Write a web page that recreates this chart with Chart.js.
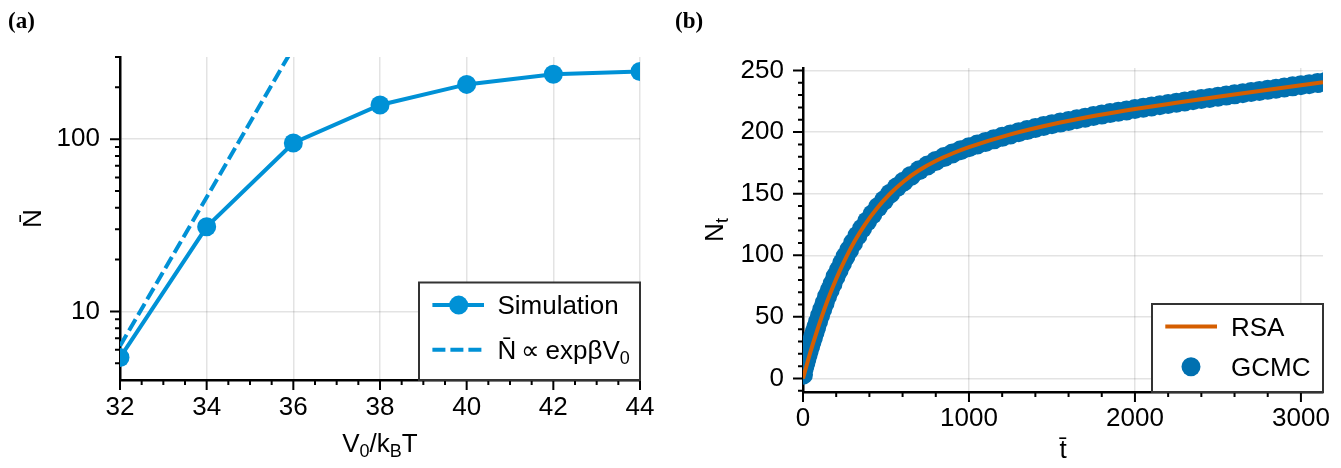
<!DOCTYPE html>
<html><head><meta charset="utf-8">
<script src="https://cdn.jsdelivr.net/npm/chart.js@4.4.1/dist/chart.umd.min.js"></script>
<style>
html,body{margin:0;padding:0;background:#fff;}
#wrap{position:relative;width:1341px;height:468px;overflow:hidden;background:#fff;}
canvas{position:absolute;top:0;}
</style></head><body>
<div id="wrap">
<canvas id="ca" width="660" height="468" style="left:0"></canvas>
<canvas id="cb" width="681" height="468" style="left:660px"></canvas>
</div>
<script>
// ---------- Panel (a) data ----------
const V0 = [32, 34, 36, 38, 40, 42, 44];
const N_sim = [5.4, 31, 95, 158, 208, 238, 247];
const V0_fit = [32, 34, 36];
const N_fit = [6.3, 46, 340];
const aXTicks = [32, 34, 36, 38, 40, 42, 44];
const aXMinor = [32.5, 33, 33.5, 34.5, 35, 35.5, 36.5, 37, 37.5, 38.5, 39, 39.5, 40.5, 41, 41.5, 42.5, 43, 43.5];
const aYTicks = [10, 100];
const aYMinor = [5, 6, 7, 8, 9, 20, 30, 40, 50, 60, 70, 80, 90, 200, 300];

// ---------- Panel (b) data ----------
const t_rsa = [0, 30, 60, 85, 111, 145, 181, 220, 262, 315, 372, 445, 523, 610, 700, 805, 900, 1000, 1250, 1550, 1775, 2000, 2250, 2500, 2750, 3000, 3133];
const N_rsa = [0, 14.6, 28.2, 38.9, 49.4, 62.2, 74.6, 86.9, 98.9, 112.3, 124.7, 138, 149.7, 160.3, 169, 176.9, 182.6, 187.7, 198.1, 207.7, 213.6, 218.7, 223.8, 228.7, 233.4, 238, 240.4];
const t_gcmc = [0, 5, 10, 16, 22, 29, 36, 44, 52, 61, 70, 80, 91, 103, 116, 130, 145, 161, 178, 196, 215, 235, 256, 278, 302, 328, 356, 386, 418, 452, 488, 525, 565, 605, 650, 700, 750, 800, 850, 900, 950, 1000, 1050, 1100, 1150, 1200, 1250, 1300, 1350, 1400, 1450, 1500, 1550, 1600, 1650, 1700, 1750, 1800, 1850, 1900, 1950, 2000, 2050, 2100, 2150, 2200, 2250, 2300, 2350, 2400, 2450, 2500, 2550, 2600, 2650, 2700, 2750, 2800, 2850, 2900, 2950, 3000, 3050, 3100, 3150];
const N_gcmc = [3, 8.3, 10.7, 13.6, 16.5, 19.8, 23, 26.5, 29.9, 33.8, 37.6, 41.8, 46.2, 51, 56, 61.1, 66.5, 71.6, 76.9, 82.6, 87.8, 93.4, 98.9, 104.3, 110.1, 115.9, 121.7, 127.5, 133.2, 139.1, 144.6, 150, 155.2, 159.7, 164.4, 169, 172.9, 176.6, 179.7, 182.6, 185.2, 187.7, 189.9, 192, 194.1, 196.1, 198.1, 199.9, 201.6, 203.3, 204.9, 206.4, 207.7, 209, 210.4, 211.7, 213, 214.2, 215.4, 216.5, 217.6, 218.7, 219.7, 220.8, 221.8, 222.8, 223.8, 224.8, 225.8, 226.8, 227.7, 228.7, 229.6, 230.6, 231.5, 232.5, 233.4, 234.3, 235.2, 236.2, 237.1, 238, 238.9, 239.8, 240.7];
const bXTicks = [0, 1000, 2000, 3000];
const bXMinor = [200, 400, 600, 800, 1200, 1400, 1600, 1800, 2200, 2400, 2600, 2800];
const bYTicks = [0, 50, 100, 150, 200, 250];
const bYMinor = [-10, 10, 20, 30, 40, 60, 70, 80, 90, 110, 120, 130, 140, 160, 170, 180, 190, 210, 220, 230, 240];

// ---------- styles ----------
const FONT = "'Liberation Sans', Arial, Helvetica, sans-serif";
const SERIF = "'Liberation Serif', 'Times New Roman', serif";
const FS = 26;
const BLUE_A = '#0091d6';
const BLUE_B = '#0070b0';
const ORANGE = '#d55e00';
const GRID = 'rgba(0,0,0,0.11)';

Chart.defaults.font.family = FONT;
Chart.defaults.font.size = FS;
Chart.defaults.color = '#000';

function partsWidth(ctx, parts, size) {
  let w = 0;
  parts.forEach(p => { ctx.font = (p.sub ? Math.round(size * 0.68) : size) + 'px ' + FONT; w += ctx.measureText(p.t).width; });
  return w;
}
function drawRich(ctx, parts, x, y, size, align) {
  ctx.textAlign = 'left';
  ctx.textBaseline = 'alphabetic';
  const w = partsWidth(ctx, parts, size);
  let cx = align === 'center' ? x - w / 2 : x;
  parts.forEach(p => {
    const s = p.sub ? Math.round(size * 0.68) : size;
    ctx.font = s + 'px ' + FONT;
    ctx.fillText(p.t, cx, y + (p.sub ? size * 0.2 : 0));
    cx += ctx.measureText(p.t).width;
  });
}
function drawTicks(chart, xMaj, xMin, yMaj, yMin) {
  const ctx = chart.ctx, ca = chart.chartArea, xs = chart.scales.x, ys = chart.scales.y;
  ctx.save();
  ctx.strokeStyle = '#000';
  ctx.lineWidth = 2;
  ctx.beginPath();
  xMaj.forEach(v => { const p = xs.getPixelForValue(v); ctx.moveTo(p, ca.bottom); ctx.lineTo(p, ca.bottom + 10); });
  xMin.forEach(v => { const p = xs.getPixelForValue(v); ctx.moveTo(p, ca.bottom); ctx.lineTo(p, ca.bottom + 5); });
  yMaj.forEach(v => { const p = ys.getPixelForValue(v); ctx.moveTo(ca.left, p); ctx.lineTo(ca.left - 10, p); });
  yMin.forEach(v => { const p = ys.getPixelForValue(v); ctx.moveTo(ca.left, p); ctx.lineTo(ca.left - 5, p); });
  ctx.stroke();
  ctx.restore();
}
function legendBox(ctx, x0, y0, w, h) {
  ctx.fillStyle = '#fff';
  ctx.fillRect(x0, y0, w, h);
  ctx.strokeStyle = '#333';
  ctx.lineWidth = 2;
  ctx.strokeRect(x0, y0, w, h);
}

const decorA = {
  id: 'decorA',
  afterDraw(chart) {
    const ctx = chart.ctx, ca = chart.chartArea;
    drawTicks(chart, aXTicks, aXMinor, aYTicks, aYMinor);
    ctx.save();
    ctx.fillStyle = '#000';
    drawRich(ctx, [{t: 'V'}, {t: '0', sub: true}, {t: '/k'}, {t: 'B', sub: true}, {t: 'T'}], (ca.left + ca.right) / 2, 452, FS, 'center');
    ctx.save();
    ctx.translate(41, (ca.top + ca.bottom) / 2);
    ctx.rotate(-Math.PI / 2);
    drawRich(ctx, [{t: 'N\u0304'}], 0, 0, FS, 'center');
    ctx.restore();
    ctx.font = 'bold 23px ' + SERIF;
    ctx.textAlign = 'left'; ctx.textBaseline = 'alphabetic';
    ctx.fillText('(a)', 8, 28);
    const w = 221, h = 97.5, x0 = ca.right - w, y0 = ca.bottom - h;
    legendBox(ctx, x0, y0, w, h);
    const r1 = y0 + 22.6, r2 = y0 + 67.3;
    ctx.strokeStyle = BLUE_A; ctx.lineWidth = 4;
    ctx.beginPath(); ctx.moveTo(x0 + 13.4, r1); ctx.lineTo(x0 + 65, r1); ctx.stroke();
    ctx.fillStyle = BLUE_A;
    ctx.beginPath(); ctx.arc(x0 + 39.7, r1, 9.5, 0, Math.PI * 2); ctx.fill();
    ctx.setLineDash([13, 5]);
    ctx.beginPath(); ctx.moveTo(x0 + 13.4, r2); ctx.lineTo(x0 + 65, r2); ctx.stroke();
    ctx.setLineDash([]);
    ctx.fillStyle = '#000';
    drawRich(ctx, [{t: chart.data.datasets[0].label}], x0 + 78.4, r1 + 9.3, FS, 'left');
    drawRich(ctx, [{t: 'N\u0304\u2009\u221D\u2009exp\u03B2V'}, {t: '0', sub: true}], x0 + 78.4, r2 + 9.3, FS, 'left');
    ctx.restore();
  }
};

const decorB = {
  id: 'decorB',
  afterDraw(chart) {
    const ctx = chart.ctx, ca = chart.chartArea;
    drawTicks(chart, bXTicks, bXMinor, bYTicks, bYMinor);
    ctx.save();
    ctx.fillStyle = '#000';
    drawRich(ctx, [{t: 't\u0304'}], (ca.left + ca.right) / 2, 458, FS, 'center');
    ctx.save();
    ctx.translate(63, (ca.top + ca.bottom) / 2);
    ctx.rotate(-Math.PI / 2);
    drawRich(ctx, [{t: 'N'}, {t: 't', sub: true}], 0, 0, FS, 'center');
    ctx.restore();
    ctx.font = 'bold 23px ' + SERIF;
    ctx.textAlign = 'left'; ctx.textBaseline = 'alphabetic';
    ctx.fillText('(b)', 15, 28);
    const w = 171, h = 88, x0 = ca.right - w, y0 = ca.bottom - h;
    legendBox(ctx, x0, y0, w, h);
    const r1 = y0 + 22.4, r2 = y0 + 62.7;
    ctx.strokeStyle = ORANGE; ctx.lineWidth = 4;
    ctx.beginPath(); ctx.moveTo(x0 + 13.3, r1); ctx.lineTo(x0 + 65, r1); ctx.stroke();
    ctx.fillStyle = BLUE_B;
    ctx.beginPath(); ctx.arc(x0 + 39, r2, 9.5, 0, Math.PI * 2); ctx.fill();
    ctx.fillStyle = '#000';
    drawRich(ctx, [{t: chart.data.datasets[0].label}], x0 + 79, r1 + 9.3, FS, 'left');
    drawRich(ctx, [{t: chart.data.datasets[1].label}], x0 + 79, r2 + 9.3, FS, 'left');
    ctx.restore();
  }
};

function axisBase(ticksArr, extra) {
  return Object.assign({
    type: 'linear',
    afterBuildTicks: s => { s.ticks = ticksArr.map(v => ({value: v})); },
    grid: {color: GRID, lineWidth: 1.5, drawTicks: false},
    border: {display: true, color: '#000', width: 2.5},
    ticks: {autoSkip: false, maxRotation: 0, minRotation: 0, color: '#000', font: {size: FS, family: FONT}, callback: v => String(v)}
  }, extra);
}
function fixX(h) { return s => { s.height = h; s.paddingLeft = 0; s.paddingRight = 0; }; }
function fixY(w) { return s => { s.width = w; s.paddingTop = 0; s.paddingBottom = 0; }; }

// ---------- Chart (a) ----------
const xa = axisBase(aXTicks, {min: 32, max: 44, afterFit: fixX(88)});
xa.ticks.padding = 12;
const ya = axisBase(aYTicks, {type: 'logarithmic', min: 4, max: 300, afterFit: fixY(120)});
ya.ticks.padding = 20;

new Chart(document.getElementById('ca'), {
  type: 'line',
  data: {
    datasets: [
      {label: 'Simulation', data: V0.map((v, i) => ({x: v, y: N_sim[i]})), borderColor: BLUE_A, backgroundColor: BLUE_A,
        borderWidth: 4, pointRadius: 9.5, pointHoverRadius: 9.5, pointBorderWidth: 0, pointBackgroundColor: BLUE_A, clip: 0, order: 0, tension: 0},
      {label: 'N\u0304 \u221D exp\u03B2V\u2080', data: V0_fit.map((v, i) => ({x: v, y: N_fit[i]})), borderColor: BLUE_A,
        borderWidth: 4, borderDash: [13, 5], pointRadius: 0, pointHoverRadius: 0, clip: 0, order: 1, tension: 0}
    ]
  },
  options: {
    responsive: false, animation: false, events: [],
    layout: {padding: {top: 57, right: 20, left: 0, bottom: 0}},
    plugins: {legend: {display: false}, tooltip: {enabled: false}},
    scales: {x: xa, y: ya}
  },
  plugins: [decorA]
});

// ---------- Chart (b) ----------
const xb = axisBase(bXTicks, {min: 0, max: 3133, afterFit: fixX(76)});
xb.ticks.padding = 11;
const yb = axisBase(bYTicks, {min: -11, max: 252, afterFit: fixY(143)});
yb.ticks.padding = 19;

new Chart(document.getElementById('cb'), {
  type: 'line',
  data: {
    datasets: [
      {label: 'RSA', data: t_rsa.map((v, i) => ({x: v, y: N_rsa[i]})), borderColor: ORANGE, borderWidth: 4,
        pointRadius: 0, pointHoverRadius: 0, cubicInterpolationMode: 'monotone', clip: 0, order: 0},
      {label: 'GCMC', data: t_gcmc.map((v, i) => ({x: v, y: N_gcmc[i]})), showLine: false, backgroundColor: BLUE_B,
        pointBackgroundColor: BLUE_B, pointRadius: 10, pointHoverRadius: 10, pointBorderWidth: 0, clip: 0, order: 1}
    ]
  },
  options: {
    responsive: false, animation: false, events: [],
    layout: {padding: {top: 68, right: 18, left: 0, bottom: 0}},
    plugins: {legend: {display: false}, tooltip: {enabled: false}},
    scales: {x: xb, y: yb}
  },
  plugins: [decorB]
});
</script>
</body></html>
